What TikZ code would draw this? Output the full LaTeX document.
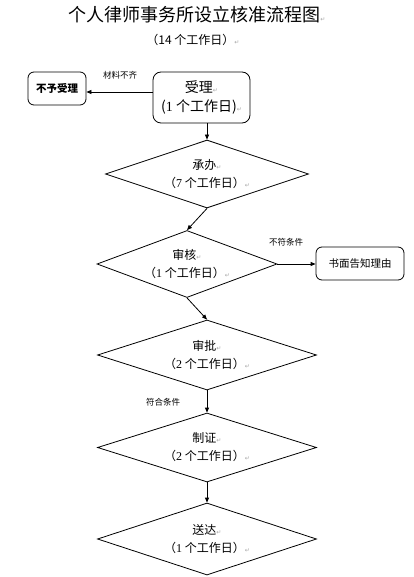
\documentclass[tikz,border=0pt]{standalone}
\usepackage{fontspec}
\setmainfont{Noto Sans CJK SC}
\newfontfamily\serdig{Liberation Serif}
\newfontfamily\dvsans{DejaVu Sans}
\usetikzlibrary{shapes.geometric,arrows.meta}
\newcommand\pmk{{\dvsans\color{gray!70}\fontsize{6}{6}\selectfont ↵}}
\begin{document}
\begin{tikzpicture}[x=1pt,y=-1pt,
  line width=0.8pt,
  arr/.style={-{Triangle[length=5pt,width=4pt]}},
  dia/.style={draw,diamond,inner sep=0pt},
  rbox/.style={draw,rounded corners=7pt,inner sep=0pt},
  txt/.style={inner sep=0pt,align=center},
  dtxt/.style={txt,font=\fontsize{12}{18}\selectfont},
  lab/.style={inner sep=0pt,font=\fontsize{8.5}{9}\selectfont}]
\useasboundingbox[fill=white] (0,0) rectangle (414,577);
% title
\node[txt,anchor=west,font=\fontsize{18}{20}\selectfont] (title) at (68,15) {个人律师事务所设立核准流程图\pmk};
\node[txt,anchor=west,font=\fontsize{12}{14}\selectfont] (sub) at (146,40) {（14 个工作日）\pmk};
% boxes
\node[rbox,rounded corners=8pt,minimum width=97pt,minimum height=51pt] (b1) at (201.5,97.5) {};
\node[txt,font=\fontsize{14}{19}\selectfont] (t1) at (b1.center) {受理\pmk\\({\serdig 1} 个工作日)\pmk};
\node[rbox,rounded corners=6pt,minimum width=58pt,minimum height=33pt] (b0) at (57,88.5) {};
\node[txt,font=\fontsize{10.5}{11}\selectfont\bfseries] (t0) at (b0.center) {不予受理};
\node[rbox,rounded corners=6pt,minimum width=88pt,minimum height=33pt] (b2) at (360,263.5) {};
\node[txt,font=\fontsize{10.5}{11}\selectfont] (t2) at (b2.center) {书面告知理由};
% diamonds
\node[dia,minimum width=203pt,minimum height=68pt] (d1) at (207,174) {};
\node[dtxt] (td1) at (d1.center) {承办\pmk\\（{\serdig 7} 个工作日）\pmk};
\node[dia,minimum width=180pt,minimum height=67pt] (d2) at (187,264) {};
\node[dtxt] (td2) at (d2.center) {审核\pmk\\（{\serdig 1} 个工作日）\pmk};
\node[dia,minimum width=219pt,minimum height=70pt] (d3) at (207,355) {};
\node[dtxt] (td3) at (d3.center) {审批\pmk\\（{\serdig 2} 个工作日）\pmk};
\node[dia,minimum width=219pt,minimum height=69pt] (d4) at (207,447.5) {};
\node[dtxt] (td4) at (d4.center) {制证\pmk\\（{\serdig 2} 个工作日）\pmk};
\node[dia,minimum width=219pt,minimum height=72pt] (d5) at (207,539) {};
\node[dtxt] (td5) at (d5.center) {送达\pmk\\（{\serdig 1} 个工作日）\pmk};
% labels
\node[lab] (l1) at (120,75) {材料不齐};
\node[lab] (l2) at (286,242) {不符条件};
\node[lab] (l3) at (163,402) {符合条件};
% connectors
\path ([yshift=5.5pt]b1.west) coordinate (s0);
\draw[arr] (s0) -- (s0 -| b0.east);
\draw[arr] (b1.south -| d1.north) -- (d1.north);
\draw[arr] (d1.south) -- (d2.north);
\draw[arr] (d2.east) -- (d2.east -| b2.west);
\draw[arr] (d2.south) -- (d3.north);
\draw[arr] (d3.south) -- (d4.north);
\draw[arr] (d4.south) -- (d5.north);
\end{tikzpicture}
\end{document}
